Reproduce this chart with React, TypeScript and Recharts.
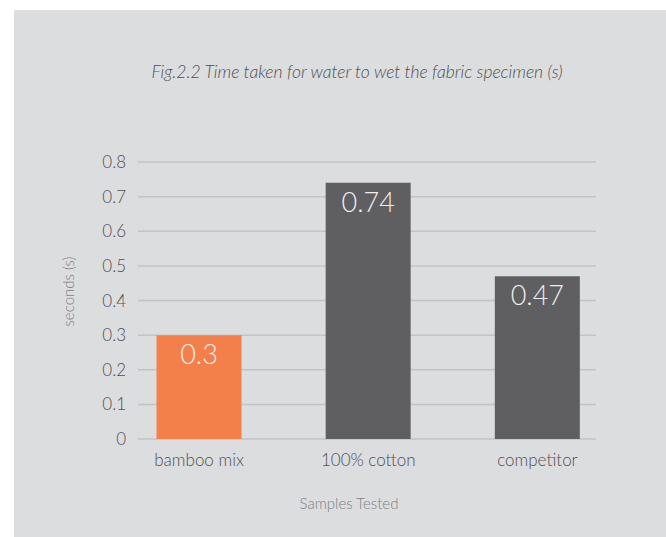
import React from 'react';
import { BarChart, Bar, XAxis, YAxis, CartesianGrid, Cell, LabelList } from 'recharts';

const samples = ['bamboo mix', '100% cotton', 'competitor'];
const seconds = [0.3, 0.74, 0.47];
const barColors = ['#f37f4b', '#5f5f61', '#5f5f61'];
const yTicks = [0, 0.1, 0.2, 0.3, 0.4, 0.5, 0.6, 0.7, 0.8];

const data = samples.map((name, i) => ({ name, value: seconds[i] }));

const font = 'Lato, "Open Sans", sans-serif';

const App: React.FC = () => {
  return (
    <div style={{ position: 'absolute', left: 0, top: 0, width: 666, height: 537, background: '#ffffff', fontFamily: font }}>
      {/* grey panel */}
      <div style={{ position: 'absolute', left: 14, top: 10, right: 0, bottom: 0, background: '#dcdddf' }} />

      <div
        style={{
          position: 'absolute',
          left: 0,
          width: 714,
          top: 61,
          textAlign: 'center',
          fontStyle: 'italic',
          fontSize: 17.5,
          color: '#4e4e50',
          fontWeight: 300,
        }}
      >
        Fig.2.2 Time taken for water to wet the fabric specimen (s)
      </div>

      <div style={{ position: 'absolute', left: 0, top: 0 }}>
        <BarChart
          width={666}
          height={537}
          data={data}
          margin={{ top: 162, right: 70, bottom: 0, left: 0 }}
          barSize={85}
        >
          <CartesianGrid vertical={false} stroke="#c2c3c5" strokeWidth={1.5} />
          <XAxis
            dataKey="name"
            axisLine={false}
            tickLine={false}
            height={98}
            padding={{ left: -23.5, right: -26 }}
            tickMargin={9}
            tick={{ fill: '#4f4f51', fontSize: 17, fontWeight: 300, fontFamily: font }}
            label={{
              value: 'Samples Tested',
              position: 'insideBottom',
              offset: 28,
              dx: -18,
              fill: '#808083',
              fontSize: 15,
              fontWeight: 300,
              fontFamily: font,
            }}
          />
          <YAxis
            type="number"
            domain={[0, 0.8]}
            ticks={yTicks}
            axisLine={false}
            tickLine={false}
            width={138}
            tickMargin={6}
            tick={{ fill: '#4f4f51', fontSize: 17, fontWeight: 300, fontFamily: font }}
            label={{
              value: 'seconds (s)',
              angle: -90,
              position: 'insideLeft',
              offset: 69,
              dy: 26,
              fill: '#808083',
              fontSize: 15,
              fontWeight: 300,
              fontFamily: font,
            }}
          />
          <Bar dataKey="value" isAnimationActive={false}>
            {data.map((d, i) => (
              <Cell key={d.name} fill={barColors[i]} />
            ))}
            <LabelList
              dataKey="value"
              position="insideTop"
              offset={10}
              fill="#f0eeec"
              fontSize={27}
              fontWeight={300}
              fontFamily={font}
            />
          </Bar>
        </BarChart>
      </div>
    </div>
  );
};

export default App;
